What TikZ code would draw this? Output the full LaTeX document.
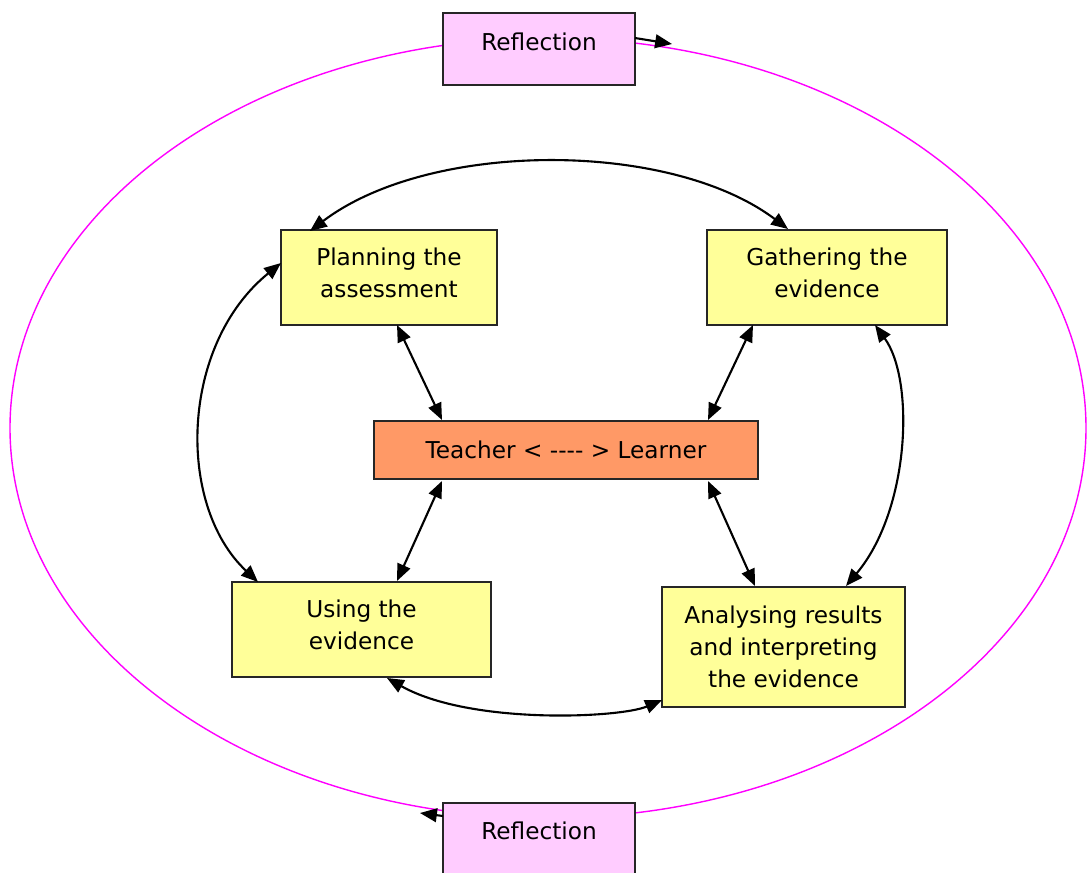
\documentclass[tikz,border=0pt]{standalone}
\usepackage{fontspec}
\setmainfont{DejaVu Sans}
\usetikzlibrary{arrows.meta}
\definecolor{boxyellow}{HTML}{FFFF99}
\definecolor{boxorange}{HTML}{FF9966}
\definecolor{boxpink}{HTML}{FFCCFF}
\definecolor{ringmag}{HTML}{FF00FF}
\begin{document}
\begin{tikzpicture}[x=0.01cm,y=-0.01cm,
  txt/.style={font=\fontsize{6.6}{9.1}\selectfont},
  box/.style={draw=black!85,line width=0.6pt,align=center,inner sep=0pt,txt},
  ybox/.style={box,fill=boxyellow},
  link/.style={line width=0.6pt,{Triangle[length=4.8pt,width=3.9pt]}-{Triangle[length=4.8pt,width=3.9pt]}},
  onearrow/.style={line width=0.6pt,-{Triangle[length=4.8pt,width=3.9pt]}}]
\useasboundingbox (0,0) rectangle (1087,872);
\fill[white] (0,0) rectangle (1087,872);
% outer ring
\draw[ringmag,line width=0.4pt] (548,428) ellipse [x radius=538,y radius=390];
% boxes
\node[box,fill=boxpink,minimum width=1.92cm,minimum height=0.72cm] (reftop) at (539,49) {};
\node[txt] (reftoptext) at (539,42) {Reflection};
\node[box,fill=boxpink,minimum width=1.92cm,minimum height=0.72cm] (refbot) at (539,839) {};
\node[txt] (refbottext) at (539,831) {Reflection};
\node[ybox,minimum width=2.16cm,minimum height=0.95cm] (plan) at (389,277.5) {Planning the\\assessment\rule[-2.5pt]{0pt}{1pt}};
\node[ybox,minimum width=2.40cm,minimum height=0.95cm] (gath) at (827,277.5) {Gathering the\\evidence\rule[-2.5pt]{0pt}{1pt}};
\node[box,fill=boxorange,minimum width=3.84cm,minimum height=0.58cm] (teach) at (566,450) {Teacher < {-}{-}{-}{-} > Learner};
\node[ybox,minimum width=2.59cm,minimum height=0.95cm] (using) at (361.5,629.5) {Using the\\evidence\rule[-2.5pt]{0pt}{1pt}};
\node[ybox,minimum width=2.43cm,minimum height=1.20cm] (anal) at (783.5,647) {Analysing results\\and interpreting\\the evidence};
% connector end points
\coordinate (pt) at (310,231);
\coordinate (gt) at (788,229);
\coordinate (pl) at (281,263);
\coordinate (ut) at (258,582);
\coordinate (gb) at (875,325);
\coordinate (at) at (846,586);
\coordinate (ub) at (387,678);
\coordinate (al) at (662,700);
\coordinate (pb) at (397,325);
\coordinate (ttl) at (442,420);
\coordinate (gbl) at (753,325);
\coordinate (ttr) at (708,420);
\coordinate (tbl) at (442,481);
\coordinate (utr) at (397,581);
\coordinate (tbr) at (708,481);
\coordinate (atl) at (755,586);
\coordinate (rtend) at (672,44);
\coordinate (rtstart) at (635,38);
\coordinate (rbstart) at (443,816);
\coordinate (rbend) at (420,813);
% curved links
\draw[link] (pt) .. controls (430,140) and (670,140) .. (gt);
\draw[link] (pl) .. controls (180,345) and (176,505) .. (ut);
\draw[link] (gb) .. controls (915,380) and (910,510) .. (at);
\draw[link] (ub) .. controls (470,725) and (620,718) .. (al);
% straight links
\draw[link] (pb) -- (ttl);
\draw[link] (gbl) -- (ttr);
\draw[link] (tbl) -- (utr);
\draw[link] (tbr) -- (atl);
% reflection arrows
\draw[onearrow] (rtstart) -- (rtend);
\draw[onearrow] (rbstart) -- (rbend);
\end{tikzpicture}
\end{document}
